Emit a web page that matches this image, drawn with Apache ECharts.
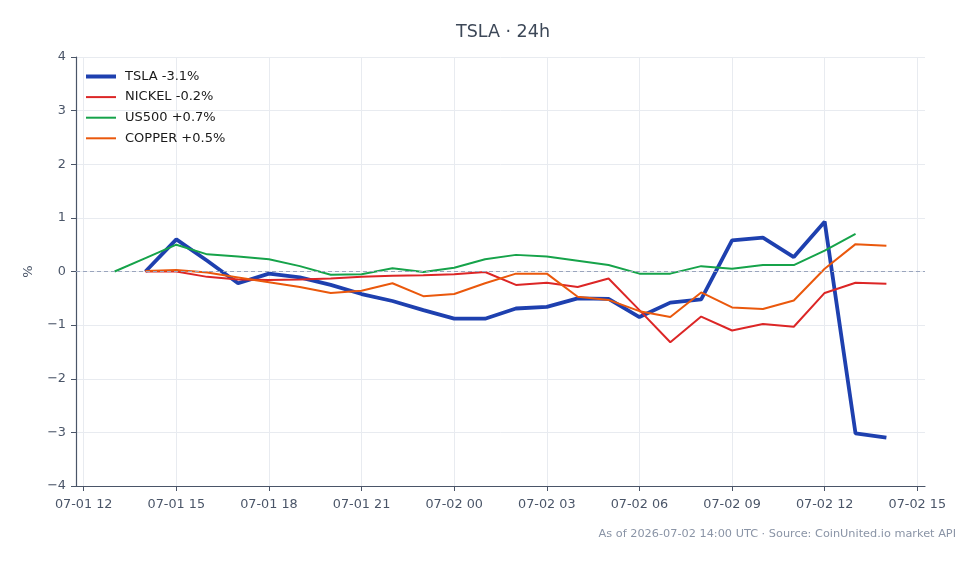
<!DOCTYPE html>
<html>
<head>
<meta charset="utf-8">
<script src="https://cdn.jsdelivr.net/npm/echarts@6/dist/echarts.min.js"></script>
<style>
  html, body { margin: 0; padding: 0; background: #fff; }
  #chart { width: 980px; height: 564px; }
</style>
</head>
<body>
<div id="chart"></div>
<script>
// hours counted from 07-01 00:00 UTC
var hours = [13, 14, 15, 16, 17, 18, 19, 20, 21, 22, 23, 24, 25, 26, 27, 28, 29, 30, 31, 32, 33, 34, 35, 36, 37, 38];
var tsla   = [null, 0, 0.6, 0.2, -0.22, -0.04, -0.11, -0.25, -0.42, -0.55, -0.72, -0.88, -0.88, -0.69, -0.66, -0.5, -0.51, -0.85, -0.58, -0.52, 0.58, 0.63, 0.27, 0.93, -3.02, -3.1];
var nickel = [null, 0, 0, -0.1, -0.15, -0.16, -0.15, -0.13, -0.1, -0.08, -0.07, -0.05, -0.01, -0.25, -0.21, -0.29, -0.13, -0.72, -1.32, -0.84, -1.1, -0.98, -1.03, -0.4, -0.21, -0.23];
var us500  = [0, 0.25, 0.5, 0.32, 0.28, 0.23, 0.1, -0.06, -0.05, 0.06, -0.01, 0.07, 0.23, 0.31, 0.28, 0.2, 0.12, -0.04, -0.04, 0.1, 0.05, 0.12, 0.12, 0.39, 0.7, null];
var copper = [null, 0.01, 0.03, -0.02, -0.11, -0.2, -0.29, -0.4, -0.36, -0.22, -0.46, -0.42, -0.22, -0.04, -0.04, -0.47, -0.53, -0.74, -0.85, -0.39, -0.67, -0.7, -0.54, 0.05, 0.51, 0.48];
var seriesNames = ['TSLA -3.1%', 'NICKEL -0.2%', 'US500 +0.7%', 'COPPER +0.5%'];
var seriesColors = ['#1e40af', '#dc2626', '#16a34a', '#ea580c'];
var xTicks = [12, 15, 18, 21, 24, 27, 30, 33, 36, 39];

function pairs(vals) {
    return hours.map(function (h, i) { return [h, vals[i] === null ? '-' : vals[i]]; });
}
function hourLabel(v) {
    var day = v < 24 ? '07-01' : '07-02';
    var hh = v % 24;
    return day + ' ' + (hh < 10 ? '0' + hh : hh);
}

var axisColor = '#4a5568';
var gridColor = '#e8ebf0';
var thickIcon = 'path://M0 0 H30 V4 H0 Z';
var thinIcon = 'path://M0 0 H30 V2 H0 Z';

var myChart = echarts.init(document.getElementById('chart'));
var option = {
    backgroundColor: '#fff',
    animation: false,
    textStyle: { fontFamily: 'DejaVu Sans' },
    title: [
        {
            text: 'TSLA · 24h',
            left: 498, top: 18, textAlign: 'center',
            textStyle: { fontSize: 17.5, fontWeight: 'normal', color: '#3d4858' }
        },
        {
            text: 'As of 2026-07-02 14:00 UTC · Source: CoinUnited.io market API',
            right: 19, top: 524,
            textStyle: { fontSize: 11.3, fontWeight: 'normal', color: '#8a94a6' }
        }
    ],
    legend: {
        orient: 'vertical',
        left: 81, top: 65,
        itemWidth: 30, itemHeight: 14, itemGap: 7.6,
        textStyle: { fontSize: 13, color: '#1a1a1a', padding: [0, 0, 0, 4] },
        data: [
            { name: seriesNames[0], icon: thickIcon },
            { name: seriesNames[1], icon: thinIcon },
            { name: seriesNames[2], icon: thinIcon },
            { name: seriesNames[3], icon: thinIcon }
        ]
    },
    grid: { left: 76, right: 55, top: 57, bottom: 78 },
    xAxis: {
        type: 'value',
        min: 11.75, max: 39.25,
        axisLine: { show: true, onZero: false, lineStyle: { color: axisColor, width: 1.2 } },
        axisTick: { show: true, length: 5, customValues: xTicks, lineStyle: { color: axisColor } },
        axisLabel: {
            customValues: xTicks, color: axisColor, fontSize: 12.8, margin: 12,
            formatter: function (v) { return hourLabel(v); }
        },
        splitLine: { show: true, lineStyle: { color: gridColor, width: 1 } }
    },
    yAxis: {
        type: 'value',
        min: -4, max: 4, interval: 1,
        name: '%', nameLocation: 'middle', nameGap: 41, nameRotate: 90,
        nameTextStyle: { color: axisColor, fontSize: 13 },
        axisLine: { show: true, onZero: false, lineStyle: { color: axisColor, width: 1.2 } },
        axisTick: { show: true, length: 5, lineStyle: { color: axisColor } },
        axisLabel: {
            color: axisColor, fontSize: 12.8, margin: 10,
            formatter: function (v) { return String(v).replace('-', '\u2212'); }
        },
        splitLine: { show: true, lineStyle: { color: gridColor, width: 1 } }
    },
    series: [
        {
            name: seriesNames[0], type: 'line', data: pairs(tsla),
            symbol: 'none', color: seriesColors[0],
            lineStyle: { width: 3.8 },
            markLine: {
                silent: true, symbol: 'none', label: { show: false },
                lineStyle: { color: '#9aa5bd', type: [4, 3], width: 1.1 },
                data: [{ yAxis: 0 }]
            }
        },
        {
            name: seriesNames[1], type: 'line', data: pairs(nickel),
            symbol: 'none', color: seriesColors[1], lineStyle: { width: 2 }
        },
        {
            name: seriesNames[2], type: 'line', data: pairs(us500),
            symbol: 'none', color: seriesColors[2], lineStyle: { width: 2 }
        },
        {
            name: seriesNames[3], type: 'line', data: pairs(copper),
            symbol: 'none', color: seriesColors[3], lineStyle: { width: 2 }
        }
    ]
};
myChart.setOption(option);
</script>
</body>
</html>
